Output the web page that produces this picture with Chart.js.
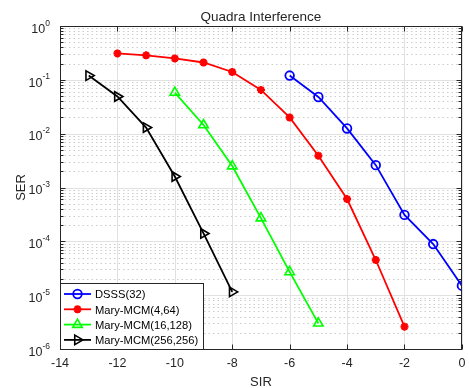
<!DOCTYPE html>
<html>
<head>
<meta charset="utf-8">
<script src="https://cdn.jsdelivr.net/npm/chart.js@4.4.1/dist/chart.umd.min.js"></script>
<style>
  html, body { margin: 0; padding: 0; background: #fff; }
  #wrap { width: 469px; height: 388px; }
</style>
</head>
<body>
<div id="wrap"><canvas id="serChart" width="469" height="388"></canvas></div>
<script>
// SIR on x, symbol error rate on y
const dsssSIR = [-6, -5, -4, -3, -2, -1, 0];
const dsssSER = [0.12, 0.048, 0.0125, 0.0026, 3.1e-4, 8.9e-5, 1.5e-5];

const mcm4SIR = [-12, -11, -10, -9, -8, -7, -6, -5, -4, -3, -2];
const mcm4SER = [0.31, 0.285, 0.25, 0.21, 0.14, 0.065, 0.02, 0.0039, 6.1e-4, 4.5e-5, 2.6e-6];

const mcm16SIR = [-10, -9, -8, -7, -6, -5];
const mcm16SER = [0.058, 0.0145, 0.0025, 2.7e-4, 2.7e-5, 3e-6];

const mcm256SIR = [-13, -12, -11, -10, -9, -8];
const mcm256SER = [0.12, 0.049, 0.013, 0.0016, 1.4e-4, 1.15e-5];

const seriesNames = ['DSSS(32)', 'Mary-MCM(4,64)', 'Mary-MCM(16,128)', 'Mary-MCM(256,256)'];
const xTicks = [-14, -12, -10, -8, -6, -4, -2, 0];
const yPowers = [-6, -5, -4, -3, -2, -1, 0];

const FONT = "'Liberation Sans', Arial, Helvetica, sans-serif";
const TXT = '#262626';

function pts(xs, ys) {
    return xs.map((x, i) => ({ x: x, y: ys[i] }));
}

function line(ctx, x1, y1, x2, y2) {
    ctx.beginPath();
    ctx.moveTo(x1, y1);
    ctx.lineTo(x2, y2);
    ctx.stroke();
}

// grid, box, ticks, labels, title and legend drawn MATLAB-style
const axesPainter = {
    id: 'axesPainter',
    beforeDatasetsDraw(chart) {
        const { ctx, chartArea: a, scales: { x, y } } = chart;
        ctx.save();
        ctx.lineWidth = 1;

        // minor dotted horizontals
        ctx.strokeStyle = '#cdcdcd';
        ctx.setLineDash([1.5, 3]);
        yPowers.forEach(p => {
            if (p === 0) return;
            for (let k = 2; k <= 9; k++) {
                const py = Math.round(y.getPixelForValue(k * Math.pow(10, p))) + 0.5;
                line(ctx, a.left, py, a.right, py);
            }
        });

        // major grid
        ctx.setLineDash([]);
        ctx.strokeStyle = '#e1e1e1';
        xTicks.forEach(v => {
            const px = Math.round(x.getPixelForValue(v)) + 0.5;
            line(ctx, px, a.top, px, a.bottom);
        });
        yPowers.forEach(p => {
            const py = Math.round(y.getPixelForValue(Math.pow(10, p))) + 0.5;
            line(ctx, a.left, py, a.right, py);
        });
        ctx.restore();
    },
    afterDatasetsDraw(chart) {
        const { ctx, chartArea: a, scales: { x, y } } = chart;
        const L = Math.round(a.left) + 0.5, R = Math.round(a.right) - 0.5;
        const T = Math.round(a.top) + 0.5, B = Math.round(a.bottom) + 0.5;
        ctx.save();

        // box
        ctx.strokeStyle = TXT;
        ctx.lineWidth = 1;
        ctx.strokeRect(L, T, R - L, B - T);

        // ticks (inward)
        xTicks.forEach(v => {
            const px = Math.round(x.getPixelForValue(v)) + 0.5;
            line(ctx, px, B, px, B - 5);
            line(ctx, px, T, px, T + 5);
        });
        yPowers.forEach(p => {
            const py = Math.round(y.getPixelForValue(Math.pow(10, p))) + 0.5;
            line(ctx, L, py, L + 5, py);
            line(ctx, R, py, R - 5, py);
            if (p === 0) return;
            for (let k = 2; k <= 9; k++) {
                const my = Math.round(y.getPixelForValue(k * Math.pow(10, p))) + 0.5;
                line(ctx, L, my, L + 3, my);
                line(ctx, R, my, R - 3, my);
            }
        });

        // x tick labels
        ctx.fillStyle = TXT;
        ctx.font = '12.5px ' + FONT;
        ctx.textAlign = 'center';
        ctx.textBaseline = 'alphabetic';
        xTicks.forEach(v => {
            ctx.fillText(String(v), x.getPixelForValue(v), 367);
        });

        // y tick labels 10^p
        yPowers.forEach(p => {
            const py = y.getPixelForValue(Math.pow(10, p));
            const sup = String(p);
            ctx.font = '8.5px ' + FONT;
            const sw = ctx.measureText(sup).width;
            ctx.textAlign = 'left';
            ctx.fillText(sup, 50 - sw, py - 0.5);
            ctx.font = '12.5px ' + FONT;
            ctx.textAlign = 'right';
            ctx.fillText('10', 50 - sw, py + 6.7);
        });

        // axis titles and chart title
        ctx.textAlign = 'center';
        ctx.font = '13px ' + FONT;
        ctx.fillText('SIR', (a.left + a.right) / 2, 386);
        ctx.save();
        ctx.translate(25, (a.top + a.bottom) / 2);
        ctx.rotate(-Math.PI / 2);
        ctx.fillText('SER', 0, 0);
        ctx.restore();
        ctx.font = '13.5px ' + FONT;
        ctx.fillText('Quadra Interference', (a.left + a.right) / 2, 21);

        // legend box in the lower left corner
        const lx = L, ly = 283.5, lw = 143, lh = B - ly;
        ctx.fillStyle = '#fff';
        ctx.fillRect(lx, ly, lw, lh);
        ctx.strokeStyle = TXT;
        ctx.strokeRect(lx, ly, lw, lh);
        chart.data.datasets.forEach((ds, i) => {
            const cy = 294 + i * 15.3;
            ctx.strokeStyle = ds.borderColor;
            ctx.lineWidth = ds.borderWidth;
            line(ctx, 64, cy, 91, cy);
            ctx.fillStyle = ds.pointBackgroundColor;
            ctx.lineWidth = ds.pointBorderWidth;
            Chart.helpers.drawPoint(ctx, {
                pointStyle: ds.pointStyle,
                rotation: ds.pointRotation || 0,
                radius: ds.pointRadius,
                borderWidth: ds.pointBorderWidth
            }, 77.5, cy);
            ctx.fillStyle = '#000';
            ctx.font = '11.2px ' + FONT;
            ctx.textAlign = 'left';
            ctx.fillText(seriesNames[i], 95, cy + 4.3);
        });
        ctx.restore();
    }
};

const ctx = document.getElementById('serChart').getContext('2d');

new Chart(ctx, {
    type: 'line',
    data: {
        datasets: [
            {
                label: seriesNames[0],
                data: pts(dsssSIR, dsssSER),
                borderColor: '#0000ff',
                borderWidth: 1.8,
                pointStyle: 'circle',
                pointRadius: 4.3,
                pointBorderWidth: 1.8,
                pointBorderColor: '#0000ff',
                pointBackgroundColor: 'rgba(0,0,0,0)'
            },
            {
                label: seriesNames[1],
                data: pts(mcm4SIR, mcm4SER),
                borderColor: '#ff0000',
                borderWidth: 1.8,
                pointStyle: 'star',
                pointRadius: 4,
                pointBorderWidth: 2.4,
                pointBorderColor: '#ff0000',
                pointBackgroundColor: '#ff0000'
            },
            {
                label: seriesNames[2],
                data: pts(mcm16SIR, mcm16SER),
                borderColor: '#00ff00',
                borderWidth: 1.8,
                pointStyle: 'triangle',
                pointRadius: 5.5,
                pointBorderWidth: 1.6,
                pointBorderColor: '#00ff00',
                pointBackgroundColor: 'rgba(0,0,0,0)'
            },
            {
                label: seriesNames[3],
                data: pts(mcm256SIR, mcm256SER),
                borderColor: '#000000',
                borderWidth: 1.8,
                pointStyle: 'triangle',
                pointRotation: 90,
                pointRadius: 5.5,
                pointBorderWidth: 1.6,
                pointBorderColor: '#000000',
                pointBackgroundColor: 'rgba(0,0,0,0)'
            }
        ]
    },
    options: {
        responsive: false,
        animation: false,
        devicePixelRatio: 1,
        layout: {
            padding: { top: 26, right: 1, bottom: 0, left: 0 }
        },
        plugins: {
            legend: { display: false },
            tooltip: { enabled: false },
            title: { display: false }
        },
        scales: {
            x: {
                type: 'linear',
                min: -14,
                max: 0,
                grid: { display: false },
                border: { display: false },
                ticks: { display: false },
                afterFit: function(scale) { scale.height = 39; }
            },
            y: {
                type: 'logarithmic',
                min: 1e-6,
                max: 1,
                grid: { display: false },
                border: { display: false },
                ticks: { display: false },
                afterFit: function(scale) { scale.width = 60; }
            }
        }
    },
    plugins: [axesPainter]
});
</script>
</body>
</html>
